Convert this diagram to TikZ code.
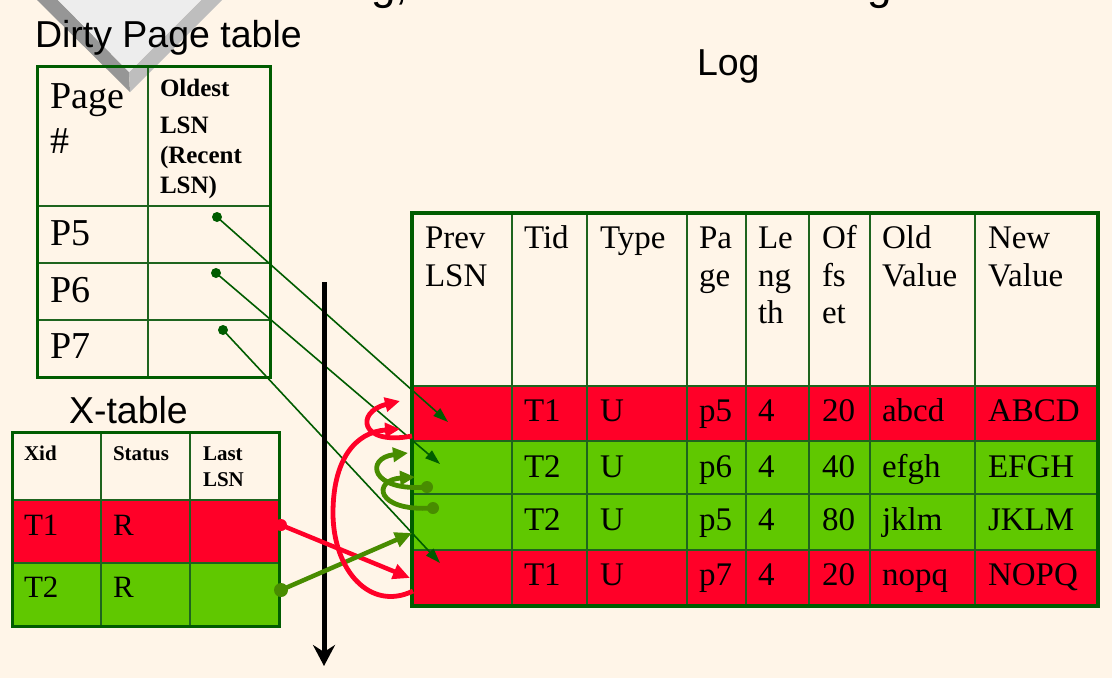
\documentclass[tikz,border=0pt]{standalone}
\usepackage{fontspec}
\setmainfont{Liberation Serif}
\newfontfamily\sansf{Liberation Sans}
\usetikzlibrary{arrows.meta}
\definecolor{bg}{RGB}{255,245,232}
\definecolor{rd}{RGB}{255,0,40}
\definecolor{gr}{RGB}{96,200,0}
\definecolor{dg}{RGB}{0,92,0}
\definecolor{ln}{RGB}{30,100,30}
\definecolor{ol}{RGB}{72,140,0}
\definecolor{gA}{RGB}{150,150,150}
\definecolor{gB}{RGB}{190,190,190}
\definecolor{gC}{RGB}{237,237,237}
\begin{document}
\begin{tikzpicture}[x=1pt,y=-1pt,
  txt/.style={anchor=base west, inner sep=0pt, outer sep=0pt},
  cell/.style={draw=ln, line width=1.3pt},
  outerbox/.style={draw=dg, line width=3.5pt},
  ptr/.style={draw=dg, line width=1.6pt, -{Triangle[length=15pt,width=10pt]}},
  thickptr/.style={line width=4.5pt, -{Triangle[length=17pt,width=15pt]}},
  curv/.style={line width=4.8pt, -{Triangle[length=15pt,width=14pt]}},
  big/.style={font=\fontsize{38}{38}\selectfont},
  logf/.style={font=\fontsize{33}{33}\selectfont},
  hdA/.style={font=\bfseries\fontsize{25}{25}\selectfont},
  hdB/.style={font=\bfseries\fontsize{21}{21}\selectfont},
  xtf/.style={font=\fontsize{31}{31}\selectfont},
  ttl/.style={font=\sansf\fontsize{37.5}{37.5}\selectfont}
]
\useasboundingbox (0,0) rectangle (1112,678);
\fill[bg] (0,0) rectangle (1112,678);

% grey bevelled triangle (partly cut off)
\fill[gA] (37,0) -- (130,92) -- (129,72) -- (58,0) -- cycle;
\fill[gB] (222,0) -- (130,92) -- (129,72) -- (201,0) -- cycle;
\fill[gC] (58,0) -- (129,72) -- (201,0) -- cycle;

% cut-off title descenders
\node[txt, font=\sansf\fontsize{44}{44}\selectfont] (tg1) at (371,-1) {g,};
\node[txt, font=\sansf\fontsize{44}{44}\selectfont] (tg2) at (867,-1) {g};

% titles
\node[txt, ttl] (tdpt) at (35,47) {Dirty Page table};
\node[txt, ttl] (tlog) at (697,75) {Log};
\node[txt, ttl] (txt) at (69,423) {X-table};

% ---------------- Dirty page table
\draw[cell] (148,66) -- (148,377);
\foreach \yy in {206,263,320} \draw[cell] (37,\yy) -- (270,\yy);
\draw[outerbox, line width=3pt] (37,66) rectangle (270,377);
\node[txt, big] (dpa) at (50,108) {Page};
\node[txt, big] (dpb) at (50,153) {\#};
\node[txt, hdA] (dpc) at (160,96) {Oldest};
\node[txt, hdA] (dpd) at (160,133) {LSN};
\node[txt, hdA] (dpe) at (160,163) {(Recent};
\node[txt, hdA] (dpf) at (160,193) {LSN)};
\node[txt, big] (dp5t) at (50,245) {P5};
\node[txt, big] (dp6t) at (50,302) {P6};
\node[txt, big] (dp7t) at (50,358) {P7};

% ---------------- X-table
\fill[rd] (12,500) rectangle (279,563);
\fill[gr] (12,563) rectangle (279,626);
\foreach \xx in {101,190} \draw[cell] (\xx,432) -- (\xx,626);
\foreach \yy in {500,563} \draw[cell] (12,\yy) -- (279,\yy);
\draw[outerbox, line width=3pt] (12,432) rectangle (279,626);
\node[txt, hdB] (xa) at (24,460) {Xid};
\node[txt, hdB] (xb) at (113,460) {Status};
\node[txt, hdB] (xc) at (203,460) {Last};
\node[txt, hdB] (xd) at (203,486) {LSN};
\node[txt, xtf] (xe) at (24,535) {T1};
\node[txt, xtf] (xf) at (113,535) {R};
\node[txt, xtf] (xg) at (24,597) {T2};
\node[txt, xtf] (xh) at (113,597) {R};

% ---------------- Log table
\fill[rd] (412,386) rectangle (1098,441);
\fill[gr] (412,441) rectangle (1098,550);
\fill[rd] (412,550) rectangle (1098,606);
\foreach \xx in {512,587,687,746,809,870,975} \draw[cell] (\xx,213) -- (\xx,606);
\foreach \yy in {386,441,494,550} \draw[cell] (412,\yy) -- (1098,\yy);
\draw[outerbox] (412,213) rectangle (1098,606);

\node[txt, logf] (h1a) at (425,248) {Prev};
\node[txt, logf] (h1b) at (425,286) {LSN};
\node[txt, logf] (h2) at (524,248) {Tid};
\node[txt, logf] (h3) at (600,248) {Type};
\node[txt, logf] (h4a) at (699,248) {Pa};
\node[txt, logf] (h4b) at (699,286) {ge};
\node[txt, logf] (h5a) at (758,248) {Le};
\node[txt, logf] (h5b) at (758,286) {ng};
\node[txt, logf] (h5c) at (758,323) {th};
\node[txt, logf] (h6a) at (822,248) {Of};
\node[txt, logf] (h6b) at (822,286) {fs};
\node[txt, logf] (h6c) at (822,323) {et};
\node[txt, logf] (h7a) at (882,248) {Old};
\node[txt, logf] (h7b) at (882,286) {Value};
\node[txt, logf] (h8a) at (988,248) {New};
\node[txt, logf] (h8b) at (988,286) {Value};

\foreach \yy/\ta/\tb/\tc/\td/\te/\tf/\tg/\nm in {
  421/T1/U/p5/4/20/abcd/ABCD/ra,
  477/T2/U/p6/4/40/efgh/EFGH/rb,
  530/T2/U/p5/4/80/jklm/JKLM/rc,
  585/T1/U/p7/4/20/nopq/NOPQ/rd}{
  \node[txt, logf] (\nm1) at (524,\yy) {\ta};
  \node[txt, logf] (\nm2) at (600,\yy) {\tb};
  \node[txt, logf] (\nm3) at (699,\yy) {\tc};
  \node[txt, logf] (\nm4) at (758,\yy) {\td};
  \node[txt, logf] (\nm5) at (822,\yy) {\te};
  \node[txt, logf] (\nm6) at (882,\yy) {\tf};
  \node[txt, logf] (\nm7) at (988,\yy) {\tg};
}

% ---------------- coordinates
\coordinate (dp5) at (217,217);
\coordinate (dp6) at (216,273);
\coordinate (dp7) at (223,330);
\coordinate (lr1) at (448,422);
\coordinate (lr2) at (440,464);
\coordinate (lr4) at (440,563);
\coordinate (tt) at (324,282);
\coordinate (tb) at (324,666);
\coordinate (xt1) at (281,525);
\coordinate (xt2) at (281,590);
\coordinate (lrA) at (410,578);
\coordinate (lrB) at (412,533);
\coordinate (arcS) at (413,591);
\coordinate (arcL) at (333,513);
\coordinate (arcT) at (400,429);
\coordinate (lpS) at (412,436);
\coordinate (lpT) at (400,401);
\coordinate (gcS) at (427,487);
\coordinate (gcT) at (408,453);
\coordinate (gdS) at (433,508);
\coordinate (gdT) at (415,477);

% pointers from dirty page table
\foreach \a in {dp5,dp6,dp7} \fill[dg] (\a) circle (5pt);
\draw[ptr] (dp5) -- (lr1);
\draw[ptr] (dp6) -- (lr2);
\draw[ptr] (dp7) -- (lr4);

% time arrow
\draw[line width=5pt, -{Stealth[length=21pt,width=22pt,inset=7pt]}] (tt) -- (tb);

% X-table pointers
\fill[rd] (xt1) circle (6pt);
\draw[rd, thickptr] (xt1) -- (lrA);
\fill[ol] (xt2) circle (7pt);
\draw[ol, thickptr] (xt2) -- (lrB);

% prevLSN chains
\draw[rd, curv] (arcS) .. controls (370,612) and (333,570) .. (arcL)
                      .. controls (333,460) and (355,432) .. (arcT);
\draw[rd, curv] (lpS) .. controls (360,446) and (355,412) .. (lpT);
\fill[ol] (gcS) circle (6pt);
\draw[ol, curv] (gcS) .. controls (370,492) and (365,458) .. (gcT);
\fill[ol] (gdS) circle (6pt);
\draw[ol, curv] (gdS) .. controls (375,512) and (372,480) .. (gdT);
\end{tikzpicture}
\end{document}
